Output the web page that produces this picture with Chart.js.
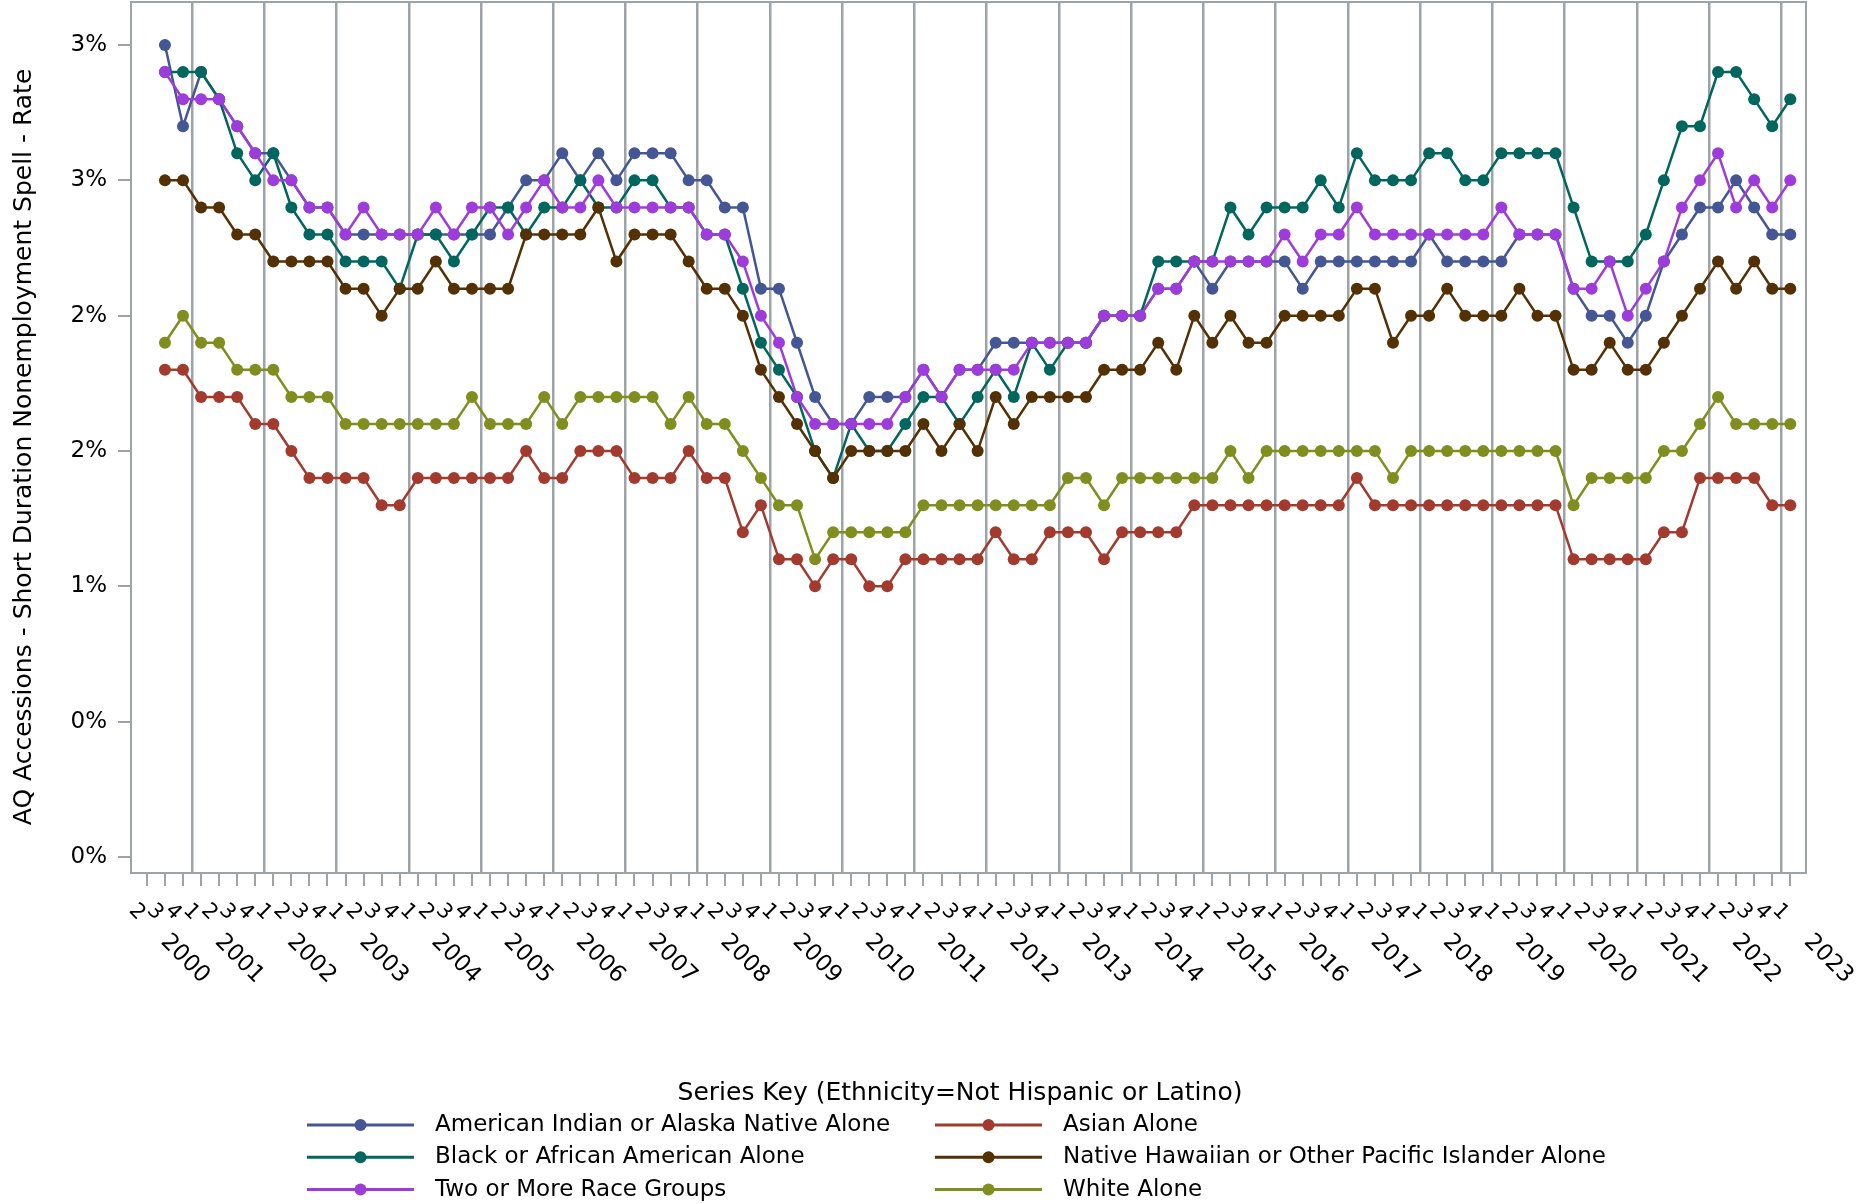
<!DOCTYPE html>
<html>
<head>
<meta charset="utf-8">
<script src="https://cdn.jsdelivr.net/npm/chart.js@4.4.1/dist/chart.umd.min.js"></script>
<style>
html, body { margin: 0; padding: 0; background: #fff; }
#wrap { width: 1866px; height: 1204px; }
</style>
</head>
<body>
<div id="wrap"><canvas id="myChart" width="1866" height="1204"></canvas></div>
<script>
// axis runs 2000 Q2 .. 2023 Q1, the series start at 2000 Q3
const years = [2000, 2001, 2002, 2003, 2004, 2005, 2006, 2007, 2008, 2009, 2010, 2011,
               2012, 2013, 2014, 2015, 2016, 2017, 2018, 2019, 2020, 2021, 2022, 2023]
const quarterNames = ['1', '2', '3', '4']
const firstAxisQuarter = 2
const lastAxisQuarter = 1
const firstDataIndex = 1

const seriesNames = [
    'American Indian or Alaska Native Alone',
    'Asian Alone',
    'Black or African American Alone',
    'Native Hawaiian or Other Pacific Islander Alone',
    'Two or More Race Groups',
    'White Alone'
]
const seriesColors = ['#445694', '#A23A2E', '#01665E', '#543005', '#9D3CDB', '#7F8E1F']

const americanIndian = [3.0, 2.7, 2.9, 2.8, 2.7, 2.6, 2.6, 2.5, 2.4, 2.4,
    2.3, 2.3, 2.3, 2.3, 2.3, 2.3, 2.3, 2.3, 2.3, 2.4,
    2.5, 2.5, 2.6, 2.5, 2.6, 2.5, 2.6, 2.6, 2.6, 2.5,
    2.5, 2.4, 2.4, 2.1, 2.1, 1.9, 1.7, 1.6, 1.6, 1.7,
    1.7, 1.7, 1.8, 1.7, 1.8, 1.8, 1.9, 1.9, 1.9, 1.9,
    1.9, 1.9, 2.0, 2.0, 2.0, 2.1, 2.1, 2.2, 2.1, 2.2,
    2.2, 2.2, 2.2, 2.1, 2.2, 2.2, 2.2, 2.2, 2.2, 2.2,
    2.3, 2.2, 2.2, 2.2, 2.2, 2.3, 2.3, 2.3, 2.1, 2.0,
    2.0, 1.9, 2.0, 2.2, 2.3, 2.4, 2.4, 2.5, 2.4, 2.3,
    2.3]
const asian = [1.8, 1.8, 1.7, 1.7, 1.7, 1.6, 1.6, 1.5, 1.4, 1.4,
    1.4, 1.4, 1.3, 1.3, 1.4, 1.4, 1.4, 1.4, 1.4, 1.4,
    1.5, 1.4, 1.4, 1.5, 1.5, 1.5, 1.4, 1.4, 1.4, 1.5,
    1.4, 1.4, 1.2, 1.3, 1.1, 1.1, 1.0, 1.1, 1.1, 1.0,
    1.0, 1.1, 1.1, 1.1, 1.1, 1.1, 1.2, 1.1, 1.1, 1.2,
    1.2, 1.2, 1.1, 1.2, 1.2, 1.2, 1.2, 1.3, 1.3, 1.3,
    1.3, 1.3, 1.3, 1.3, 1.3, 1.3, 1.4, 1.3, 1.3, 1.3,
    1.3, 1.3, 1.3, 1.3, 1.3, 1.3, 1.3, 1.3, 1.1, 1.1,
    1.1, 1.1, 1.1, 1.2, 1.2, 1.4, 1.4, 1.4, 1.4, 1.3,
    1.3]
const black = [2.9, 2.9, 2.9, 2.8, 2.6, 2.5, 2.6, 2.4, 2.3, 2.3,
    2.2, 2.2, 2.2, 2.1, 2.3, 2.3, 2.2, 2.3, 2.4, 2.4,
    2.3, 2.4, 2.4, 2.5, 2.4, 2.4, 2.5, 2.5, 2.4, 2.4,
    2.3, 2.3, 2.1, 1.9, 1.8, 1.7, 1.5, 1.4, 1.6, 1.5,
    1.5, 1.6, 1.7, 1.7, 1.6, 1.7, 1.8, 1.7, 1.9, 1.8,
    1.9, 1.9, 2.0, 2.0, 2.0, 2.2, 2.2, 2.2, 2.2, 2.4,
    2.3, 2.4, 2.4, 2.4, 2.5, 2.4, 2.6, 2.5, 2.5, 2.5,
    2.6, 2.6, 2.5, 2.5, 2.6, 2.6, 2.6, 2.6, 2.4, 2.2,
    2.2, 2.2, 2.3, 2.5, 2.7, 2.7, 2.9, 2.9, 2.8, 2.7,
    2.8]
const nativeHawaiian = [2.5, 2.5, 2.4, 2.4, 2.3, 2.3, 2.2, 2.2, 2.2, 2.2,
    2.1, 2.1, 2.0, 2.1, 2.1, 2.2, 2.1, 2.1, 2.1, 2.1,
    2.3, 2.3, 2.3, 2.3, 2.4, 2.2, 2.3, 2.3, 2.3, 2.2,
    2.1, 2.1, 2.0, 1.8, 1.7, 1.6, 1.5, 1.4, 1.5, 1.5,
    1.5, 1.5, 1.6, 1.5, 1.6, 1.5, 1.7, 1.6, 1.7, 1.7,
    1.7, 1.7, 1.8, 1.8, 1.8, 1.9, 1.8, 2.0, 1.9, 2.0,
    1.9, 1.9, 2.0, 2.0, 2.0, 2.0, 2.1, 2.1, 1.9, 2.0,
    2.0, 2.1, 2.0, 2.0, 2.0, 2.1, 2.0, 2.0, 1.8, 1.8,
    1.9, 1.8, 1.8, 1.9, 2.0, 2.1, 2.2, 2.1, 2.2, 2.1,
    2.1]
const twoOrMore = [2.9, 2.8, 2.8, 2.8, 2.7, 2.6, 2.5, 2.5, 2.4, 2.4,
    2.3, 2.4, 2.3, 2.3, 2.3, 2.4, 2.3, 2.4, 2.4, 2.3,
    2.4, 2.5, 2.4, 2.4, 2.5, 2.4, 2.4, 2.4, 2.4, 2.4,
    2.3, 2.3, 2.2, 2.0, 1.9, 1.7, 1.6, 1.6, 1.6, 1.6,
    1.6, 1.7, 1.8, 1.7, 1.8, 1.8, 1.8, 1.8, 1.9, 1.9,
    1.9, 1.9, 2.0, 2.0, 2.0, 2.1, 2.1, 2.2, 2.2, 2.2,
    2.2, 2.2, 2.3, 2.2, 2.3, 2.3, 2.4, 2.3, 2.3, 2.3,
    2.3, 2.3, 2.3, 2.3, 2.4, 2.3, 2.3, 2.3, 2.1, 2.1,
    2.2, 2.0, 2.1, 2.2, 2.4, 2.5, 2.6, 2.4, 2.5, 2.4,
    2.5]
const white = [1.9, 2.0, 1.9, 1.9, 1.8, 1.8, 1.8, 1.7, 1.7, 1.7,
    1.6, 1.6, 1.6, 1.6, 1.6, 1.6, 1.6, 1.7, 1.6, 1.6,
    1.6, 1.7, 1.6, 1.7, 1.7, 1.7, 1.7, 1.7, 1.6, 1.7,
    1.6, 1.6, 1.5, 1.4, 1.3, 1.3, 1.1, 1.2, 1.2, 1.2,
    1.2, 1.2, 1.3, 1.3, 1.3, 1.3, 1.3, 1.3, 1.3, 1.3,
    1.4, 1.4, 1.3, 1.4, 1.4, 1.4, 1.4, 1.4, 1.4, 1.5,
    1.4, 1.5, 1.5, 1.5, 1.5, 1.5, 1.5, 1.5, 1.4, 1.5,
    1.5, 1.5, 1.5, 1.5, 1.5, 1.5, 1.5, 1.5, 1.3, 1.4,
    1.4, 1.4, 1.4, 1.5, 1.5, 1.6, 1.7, 1.6, 1.6, 1.6,
    1.6]

const yTickValues = [0, 0.5, 1, 1.5, 2, 2.5, 3]
const yTickLabels = ['0%', '0%', '1%', '2%', '2%', '3%', '3%']
const yTitle = 'AQ Accessions - Short Duration Nonemployment Spell - Rate'
const legendTitle = 'Series Key (Ethnicity=Not Hispanic or Latino)'

const GRAY = '#9ea3a8'
const FONT = 'DejaVu Sans'

// list of quarters shown on the axis
const periods = []
years.forEach(y => {
    quarterNames.forEach((q, k) => {
        if (y === years[0] && k + 1 < firstAxisQuarter) return
        if (y === years[years.length - 1] && k + 1 > lastAxisQuarter) return
        periods.push({ year: y, quarter: q })
    })
})
const yearBreaks = []
periods.forEach((p, i) => { if (i > 0 && p.quarter === '1') yearBreaks.push(i - 0.5) })

const allSeries = [americanIndian, asian, black, nativeHawaiian, twoOrMore, white]
const datasets = allSeries.map((vals, k) => ({
    label: seriesNames[k],
    data: vals.map((v, j) => ({ x: firstDataIndex + j, y: v })),
    borderColor: seriesColors[k],
    backgroundColor: seriesColors[k],
    pointBackgroundColor: seriesColors[k],
    borderWidth: 2.5,
    pointRadius: 6,
    pointBorderWidth: 0,
    tension: 0,
    order: allSeries.length - k
}))

function rotatedText(ctx, text, x, y, angle, font) {
    ctx.save()
    ctx.translate(x, y)
    ctx.rotate(angle)
    ctx.font = font
    ctx.textAlign = 'center'
    ctx.textBaseline = 'middle'
    ctx.fillText(text, 0, 0)
    ctx.restore()
}

const framePlugin = {
    id: 'frame',
    beforeDatasetsDraw(chart) {
        const { ctx, chartArea: a } = chart
        ctx.save()
        ctx.strokeStyle = GRAY
        ctx.lineWidth = 2
        ctx.strokeRect(a.left, a.top, a.right - a.left, a.bottom - a.top)
        ctx.restore()
    }
}

const labelsPlugin = {
    id: 'labels',
    afterDraw(chart) {
        const { ctx, chartArea: a, scales } = chart
        const x = scales.x
        ctx.save()
        ctx.fillStyle = '#000'
        periods.forEach((p, i) => {
            const px = x.getPixelForValue(i)
            rotatedText(ctx, p.quarter, px - 10, a.bottom + 39, Math.PI / 4, '21px ' + FONT)
            if (i === 0 || p.quarter === '1') {
                rotatedText(ctx, String(p.year), px + 38, a.bottom + 86, Math.PI / 4, '23px ' + FONT)
            }
        })
        rotatedText(ctx, yTitle, 24, 447, -Math.PI / 2, '25px ' + FONT)

        // legend, two columns
        rotatedText(ctx, legendTitle, 960, 1093, 0, '25px ' + FONT)
        const colX = [307, 935]
        seriesNames.forEach((name, k) => {
            const lx = colX[k % 2]
            const ly = 1125 + 32.3 * Math.floor(k / 2)
            ctx.strokeStyle = seriesColors[k]
            ctx.lineWidth = 3
            ctx.beginPath()
            ctx.moveTo(lx, ly)
            ctx.lineTo(lx + 107, ly)
            ctx.stroke()
            ctx.fillStyle = seriesColors[k]
            ctx.beginPath()
            ctx.arc(lx + 53.5, ly, 6, 0, Math.PI * 2)
            ctx.fill()
            ctx.fillStyle = '#000'
            ctx.font = '23px ' + FONT
            ctx.textAlign = 'left'
            ctx.textBaseline = 'middle'
            ctx.fillText(name, lx + 128, ly)
        })
        ctx.restore()
    }
}

const ctx = document.getElementById('myChart')
const myChart = new Chart(ctx, {
    type: 'line',
    data: { datasets },
    options: {
        responsive: false,
        animation: false,
        events: [],
        layout: { autoPadding: false, padding: { top: 2, right: 60, bottom: 0, left: 0 } },
        plugins: { legend: { display: false }, tooltip: { enabled: false } },
        scales: {
            x: {
                type: 'linear',
                min: -0.88,
                max: periods.length - 1 + 0.87,
                afterBuildTicks: s => { s.ticks = periods.map((p, i) => ({ value: i })) },
                ticks: { display: false, autoSkip: false },
                grid: { drawOnChartArea: false, drawTicks: true, tickLength: 13, color: GRAY, lineWidth: 2 },
                border: { display: false },
                afterFit: s => { s.height = 331; s.paddingLeft = 0; s.paddingRight = 0 }
            },
            years: {
                type: 'linear',
                position: 'bottom',
                min: -0.88,
                max: periods.length - 1 + 0.87,
                afterBuildTicks: s => { s.ticks = yearBreaks.map(v => ({ value: v })) },
                ticks: { display: false, autoSkip: false },
                grid: { drawOnChartArea: true, drawTicks: false, color: GRAY, lineWidth: 2.5 },
                border: { display: false },
                afterFit: s => { s.height = 0; s.paddingLeft = 0; s.paddingRight = 0 }
            },
            y: {
                type: 'linear',
                min: -0.059,
                max: 3.159,
                afterBuildTicks: s => { s.ticks = yTickValues.map(v => ({ value: v })) },
                ticks: {
                    autoSkip: false,
                    padding: 11,
                    color: '#000',
                    font: { family: FONT, size: 23, lineHeight: 0.1 },
                    callback: (v, i) => yTickLabels[i]
                },
                grid: { drawOnChartArea: false, drawTicks: true, tickLength: 13, color: GRAY, lineWidth: 2 },
                border: { display: false },
                afterFit: s => { s.width = 131; s.paddingTop = 0; s.paddingBottom = 0 }
            }
        }
    },
    plugins: [framePlugin, labelsPlugin]
})
</script>
</body>
</html>
